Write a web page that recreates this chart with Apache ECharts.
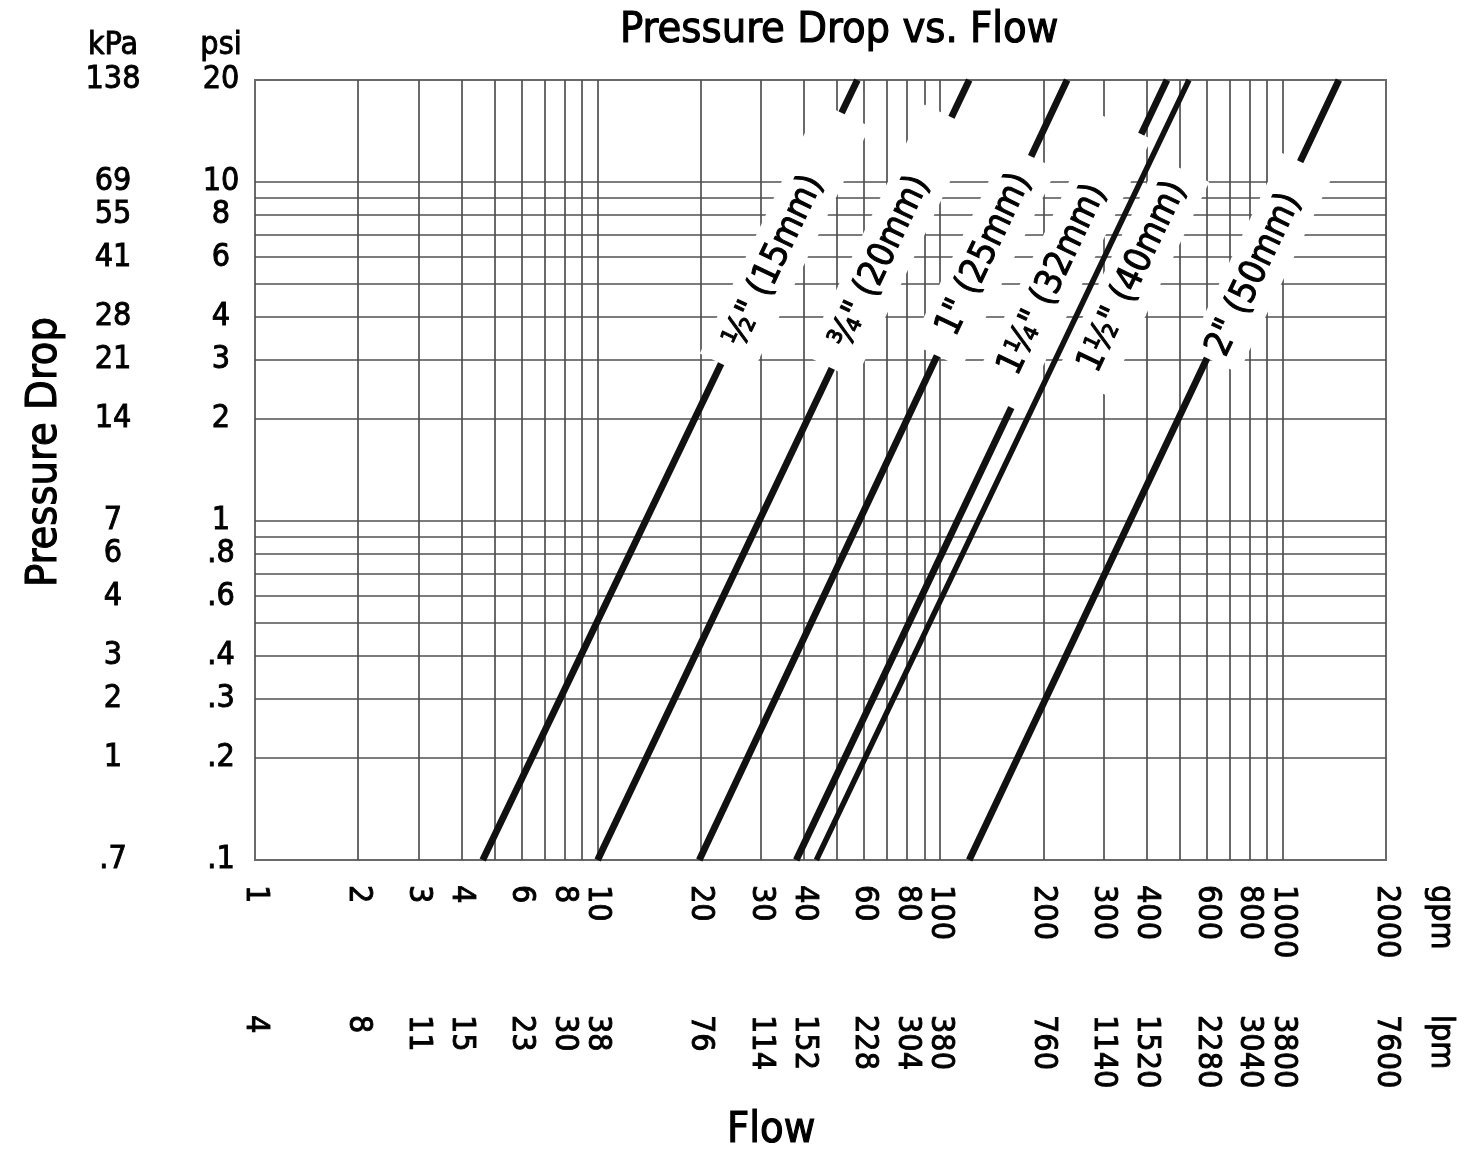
<!DOCTYPE html>
<html>
<head>
<meta charset="utf-8">
<script src="https://cdn.jsdelivr.net/npm/echarts@6/dist/echarts.min.js"></script>
<style>
html,body{margin:0;padding:0;background:#fff;}
#c{width:1479px;height:1156px;}
</style>
</head>
<body>
<div id="c"></div>
<script>
// ---------------- data ----------------
const gpmTicks = [1, 2, 3, 4, 6, 8, 10, 20, 30, 40, 60, 80, 100, 200, 300, 400, 600, 800, 1000, 2000];
const gpmTickLabels = ['1', '2', '3', '4', '6', '8', '10', '20', '30', '40', '60', '80', '100', '200', '300', '400', '600', '800', '1000', '2000'];
const lpmTickLabels = ['4', '8', '11', '15', '23', '30', '38', '76', '114', '152', '228', '304', '380', '760', '1140', '1520', '2280', '3040', '3800', '7600'];

const psiTicks = [0.1, 0.2, 0.3, 0.4, 0.6, 0.8, 1, 2, 3, 4, 6, 8, 10, 20];
const psiTickLabels = ['.1', '.2', '.3', '.4', '.6', '.8', '1', '2', '3', '4', '6', '8', '10', '20'];
const kpaTickLabels = ['.7', '1', '2', '3', '4', '6', '7', '14', '21', '28', '41', '55', '69', '138'];

const flowGridLines = [2, 3, 4, 5, 6, 7, 8, 9, 10, 20, 30, 40, 50, 60, 70, 80, 90, 100, 200, 300, 400, 500, 600, 700, 800, 900, 1000];
const pressureGridLines = [0.2, 0.3, 0.4, 0.5, 0.6, 0.7, 0.8, 0.9, 1, 2, 3, 4, 5, 6, 7, 8, 9, 10];

const flowMin = 1, flowMax = 2000;
const psiMin = 0.1, psiMax = 20;

const pipeNames = ['½" (15mm)', '¾" (20mm)', '1" (25mm)', '1¼" (32mm)', '1½" (40mm)', '2" (50mm)'];
// flow (gpm) where each pipe line meets 0.1 psi and 20 psi
const pipeFlowAtLowPsi  = [4.62, 10.0, 19.8, 38.0, 43.5, 121.5];
const pipeFlowAtHighPsi = [57.3, 121.5, 234.6, 459, 532, 1457];
// where each pipe label sits (gpm, psi)
const labelFlow = [35.2, 71.4, 134.2, 225.0, 365.3, 858];
const labelPsi  = [6.75, 6.65, 6.05, 5.75, 5.25, 5.77];

// ---------------- styles ----------------
const FONT = "'DejaVu Sans Condensed','Liberation Sans Narrow',sans-serif";
const TXT = '#000';
const labelBoxPad = [[10, 70, 10, 22], [10, 68, 10, 24], [10, 21, 10, 24], [10, 66, 10, 30], [10, 15, 10, 15], [10, 34, 10, 8]];
const solidThroughLabels = [false, false, false, false, true, false];

function nearestIdx(arr, v) {
  let best = 0, bd = Infinity;
  arr.forEach((a, i) => {
    const d = Math.abs(Math.log(a) - Math.log(v));
    if (d < bd) { bd = d; best = i; }
  });
  return best;
}

const chart = echarts.init(document.getElementById('c'), null, { renderer: 'canvas' });

const tickFont = { fontSize: 32, fontFamily: FONT, color: TXT, textBorderColor: TXT, textBorderWidth: 0.9 };
const bigFont = { fontSize: 43, fontWeight: 'normal', fontFamily: FONT, color: TXT, textBorderColor: TXT, textBorderWidth: 1.1 };

const option = {
  animation: false,
  backgroundColor: '#fff',
  title: [
    { text: 'Pressure Drop vs. Flow', left: 620, top: 9, padding: 0, textStyle: bigFont },
    { text: 'Flow', left: 727, top: 1109, padding: 0, textStyle: bigFont }
  ],
  grid: {
    left: 255, right: 93, top: 80, bottom: 296,
    show: true, borderColor: '#6a6a6a', borderWidth: 2, backgroundColor: '#fff',
    outerBoundsMode: 'none'
  },
  xAxis: [
    {
      type: 'log', min: flowMin, max: flowMax, position: 'bottom', offset: 0,
      axisLine: { show: false }, axisTick: { show: false }, splitLine: { show: false },
      axisLabel: Object.assign({ customValues: gpmTicks, rotate: -90, margin: 25,
        formatter: v => gpmTickLabels[nearestIdx(gpmTicks, v)] }, tickFont),
      name: 'gpm', nameLocation: 'end', nameGap: 54, nameRotate: -90,
      nameTextStyle: Object.assign({ align: 'left', verticalAlign: 'middle', padding: [0, 0, 0, 25] }, tickFont)
    },
    {
      type: 'log', min: flowMin, max: flowMax, position: 'bottom', offset: 130,
      axisLine: { show: false }, axisTick: { show: false }, splitLine: { show: false },
      axisLabel: Object.assign({ customValues: gpmTicks, rotate: -90, margin: 25,
        formatter: v => lpmTickLabels[nearestIdx(gpmTicks, v)] }, tickFont),
      name: 'lpm', nameLocation: 'end', nameGap: 54, nameRotate: -90,
      nameTextStyle: Object.assign({ align: 'left', verticalAlign: 'middle', padding: [0, 0, 0, 25] }, tickFont)
    }
  ],
  yAxis: [
    {
      type: 'log', min: psiMin, max: psiMax, position: 'left', offset: 34,
      axisLine: { show: false }, axisTick: { show: false }, splitLine: { show: false },
      axisLabel: Object.assign({ customValues: psiTicks, align: 'center', margin: 0, padding: [8, 0, 0, 0],
        formatter: v => psiTickLabels[nearestIdx(psiTicks, v)] }, tickFont),
      name: 'psi', nameLocation: 'end', nameGap: 18,
      nameTextStyle: Object.assign({ align: 'center' }, tickFont)
    },
    {
      type: 'log', min: psiMin, max: psiMax, position: 'left', offset: 142,
      axisLine: { show: false }, axisTick: { show: false }, splitLine: { show: false },
      axisLabel: Object.assign({ customValues: psiTicks, align: 'center', margin: 0, padding: [8, 0, 0, 0],
        formatter: v => kpaTickLabels[nearestIdx(psiTicks, v)] }, tickFont),
      name: 'kPa', nameLocation: 'end', nameGap: 18,
      nameTextStyle: Object.assign({ align: 'center' }, tickFont)
    },
    {
      type: 'log', min: psiMin, max: psiMax, position: 'left', offset: 210,
      axisLine: { show: false }, axisTick: { show: false }, splitLine: { show: false },
      axisLabel: { show: false },
      name: 'Pressure Drop', nameLocation: 'middle', nameGap: 0, nameRotate: 90,
      nameTextStyle: Object.assign({ align: 'center', verticalAlign: 'middle', padding: [0, 0, 0, 36] }, bigFont)
    }
  ],
  series: [
    {
      type: 'line', name: 'grid', data: [], silent: true, z: 1,
      markLine: {
        silent: true, symbol: 'none', z: 1, animation: false,
        label: { show: false },
        lineStyle: { color: '#505050', width: 1.7, type: 'solid' },
        emphasis: { disabled: true },
        data: flowGridLines.map(v => ({ xAxis: v })).concat(pressureGridLines.map(v => ({ yAxis: v })))
      }
    }
  ].concat(pipeNames.map((n, i) => ({
    type: 'line', name: n, silent: true,
    data: [[pipeFlowAtLowPsi[i], psiMin], [pipeFlowAtHighPsi[i], psiMax]],
    showSymbol: false, symbol: 'none',
    lineStyle: { color: '#111', width: solidThroughLabels[i] ? 5.5 : 6.8 },
    z: solidThroughLabels[i] ? 8 : 2
  }))).concat([
    {
      type: 'scatter', name: 'labels', silent: true, z: 5,
      symbolSize: 1, itemStyle: { color: 'rgba(0,0,0,0)', opacity: 1 },
      data: pipeNames.map((n, i) => ({ value: [labelFlow[i], labelPsi[i]], label: { padding: labelBoxPad[i] } })),
      label: {
        show: true, position: 'inside', rotate: 64.5, opacity: 1,
        formatter: p => pipeNames[p.dataIndex],
        fontSize: 36, lineHeight: 36, fontFamily: FONT, color: TXT,
        textBorderColor: TXT, textBorderWidth: 1,
        backgroundColor: '#fff'
      }
    }
  ])
};

chart.setOption(option);
</script>
</body>
</html>
